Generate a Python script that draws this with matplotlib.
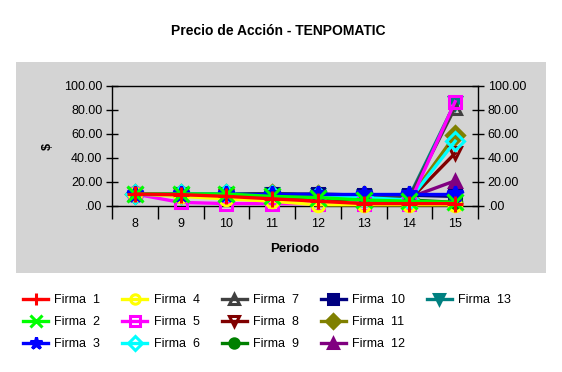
import numpy as np
import matplotlib
matplotlib.use("Agg")
import matplotlib.pyplot as plt
from matplotlib.patches import Rectangle
from matplotlib.lines import Line2D

plt.rcParams['font.family'] = ['Liberation Sans', 'DejaVu Sans']

# periods and share prices per firm
periods = [8, 9, 10, 11, 12, 13, 14, 15]
firma1 = [10, 9.5, 8, 6, 4, 2, 2, 2]
firma2 = [10, 10, 10, 8, 7, 5, 4, 3]
firma3 = [10, 10, 10, 10, 10, 10, 10, 10]
firma4 = [10, 8, 6, 4, 1, 1, 1, 1]
firma5 = [10, 3, 2, 2, 2, 2, 2, 87]
firma6 = [10, 10, 10, 9, 8, 7, 5, 54]
firma7 = [10, 10, 10, 10, 9, 8, 7, 82]
firma8 = [10, 9, 8, 7, 6, 5, 5, 44]
firma9 = [10, 10, 10, 9, 8, 6, 5, 3]
firma10 = [10, 10, 10, 10, 10, 9, 9, 8]
firma11 = [10, 10, 10, 10, 9, 8, 6, 59]
firma12 = [10, 10, 10, 10, 9, 8, 7, 21]
firma13 = [10, 10, 10, 10, 9, 8, 8, 86]

series = [firma1, firma2, firma3, firma4, firma5, firma6, firma7,
          firma8, firma9, firma10, firma11, firma12, firma13]
labels = ["Firma  %d" % (i + 1) for i in range(13)]
colors = ["#ff0000", "#00ff00", "#0000ff", "#ffff00", "#ff00ff", "#00ffff",
          "#404040", "#800000", "#008000", "#000080", "#808000", "#800080",
          "#008080"]
# (marker, filled)
markers = [("+", True), ("x", True), ("*", True), ("o", False), ("s", False),
           ("D", False), ("^", False), ("v", False), ("o", True), ("s", True),
           ("D", True), ("^", True), ("v", True)]

gray = "#d4d4d4"
fig = plt.figure(figsize=(5.62, 3.72), dpi=100)
fig.patches.append(Rectangle((16 / 562, 1 - 273 / 372), 530 / 562, 211 / 372,
                             transform=fig.transFigure, facecolor=gray,
                             edgecolor="none", zorder=-5))

ax = fig.add_axes([112 / 562, 1 - 206 / 372, 366 / 562, 120 / 372])
ax.set_zorder(2)
ax.set_facecolor(gray)

x = np.arange(len(periods))
handles = []
for i, s in enumerate(series):
    m, filled = markers[i]
    kw = dict(color=colors[i], lw=2.4, marker=m, markersize=9 if m not in "+x*" else 12,
              mew=2.2, label=labels[i], zorder=20 - i, clip_on=False)
    if not filled:
        kw["mfc"] = "none"
    line, = ax.plot(x, s, **kw)
    handles.append(line)

ax.set_xlim(-0.5, len(periods) - 0.5)
ax.set_ylim(0, 100)
ax.set_yticks(np.arange(0, 101, 20))
ax.set_yticklabels([".00", "20.00", "40.00", "60.00", "80.00", "100.00"])
ax.tick_params(axis="y", direction="inout", length=8, width=1, labelsize=9,
               right=True, labelright=True, pad=3)
ax.set_xticks(x)
ax.set_xticklabels([str(p) for p in periods])
ax.tick_params(axis="x", length=0, labelsize=9, pad=9)
ax.set_xticks(np.arange(-0.5, len(periods), 1), minor=True)
ax.tick_params(axis="x", which="minor", direction="out", length=9, width=1)
for sp in ax.spines.values():
    sp.set_linewidth(1)

ax.set_xlabel("Periodo", fontsize=9.5, fontweight="bold", labelpad=9)
ax.set_ylabel("$", fontsize=9, fontweight="bold", labelpad=7)

fig.suptitle("Precio de Acción - TENPOMATIC", x=0.495, y=1 - 31 / 372,
             va="center", fontsize=10, fontweight="bold")

blank = Line2D([], [], color="none")
leg_handles = handles + [blank, blank]
leg_labels = labels + ["", ""]
fig.legend(leg_handles, leg_labels, loc="upper left",
           bbox_to_anchor=(12 / 562, 1 - 283 / 372),
           ncol=5, frameon=False, fontsize=9, handlelength=2.0,
           columnspacing=1.75, labelspacing=0.8, handletextpad=0.5,
           markerscale=0.75)

fig.savefig("out.png", dpi=100)
